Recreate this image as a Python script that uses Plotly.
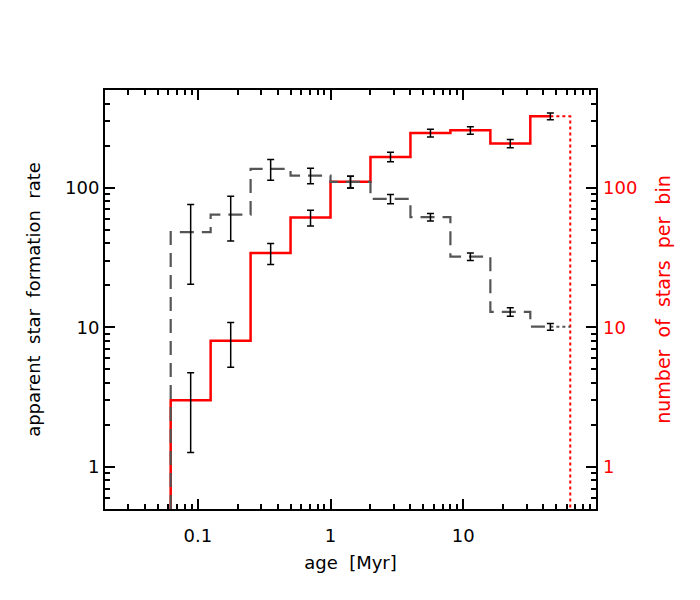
import math
import plotly.graph_objects as go

# bin edges [Myr] and bin centres (geometric)
bin_edges = [0.0625, 0.125, 0.25, 0.5, 1, 2, 4, 8, 16, 32, 64]
bin_centres = [0.0884, 0.177, 0.354, 0.707, 1.414, 2.83, 5.66, 11.31, 22.6, 45.3]

# number of stars per bin (red, right axis)
n_stars = [3, 8, 34, 61, 110, 166, 246, 257, 207, 324]
n_stars_err = [1.73, 2.83, 5.8, 7.8, 10.5, 12.9, 15.7, 16.0, 14.4, 18.0]

# apparent star formation rate (grey dashed, left axis)
sfr = [48, 64, 136, 122, 110, 83, 61.5, 32.1, 12.9, 10.1]
sfr_err = [27.7, 22.6, 23.3, 15.6, 10.5, 6.4, 3.9, 2.0, 0.9, 0.56]

x_range = [0.02, 100]
y_range = [0.5, 500]

x_major = [0.1, 1, 10]
x_major_text = ["0.1", "1", "10"]
y_major = [1, 10, 100]
y_major_text = ["1", "10", "100"]

x_minor = [m * 10 ** e for e in range(-2, 2) for m in range(2, 10)
           if x_range[0] <= m * 10 ** e <= x_range[1]]
y_minor = [m * 10 ** e for e in range(-1, 3) for m in range(2, 10)
           if y_range[0] <= m * 10 ** e <= y_range[1]]

RED = "#ff0000"
GREY = "#555555"
FONT = "DejaVu Sans"

fig = go.Figure()

# red solid step (number of stars)
red_x = [bin_edges[0]] + bin_edges[:-1] + [bin_centres[-1]]
red_y = [y_range[0]] + n_stars + [n_stars[-1]]
fig.add_trace(go.Scatter(x=red_x, y=red_y, mode="lines", line_shape="hv",
                         line=dict(color=RED, width=2.5), hoverinfo="skip"))
# red dotted continuation of last bin
fig.add_trace(go.Scatter(x=[bin_centres[-1], bin_edges[-1], bin_edges[-1]],
                         y=[n_stars[-1], n_stars[-1], y_range[0]], mode="lines",
                         line=dict(color=RED, width=2, dash="dot"), hoverinfo="skip"))
# red error bars
fig.add_trace(go.Scatter(x=bin_centres, y=n_stars, mode="markers",
                         marker=dict(size=1, color="rgba(0,0,0,0)"),
                         error_y=dict(type="data", array=n_stars_err, color="black",
                                      thickness=1.5, width=3.5)))

# grey dashed step (apparent SFR)
grey_x = [bin_edges[0]] + bin_edges[:-1] + [bin_centres[-1]]
grey_y = [y_range[0]] + sfr + [sfr[-1]]
fig.add_trace(go.Scatter(x=grey_x, y=grey_y, mode="lines", line_shape="hv",
                         line=dict(color=GREY, width=2.2, dash="14px,8px"), hoverinfo="skip"))
fig.add_trace(go.Scatter(x=[bin_centres[-1], bin_edges[-1]], y=[sfr[-1], sfr[-1]],
                         mode="lines", line=dict(color=GREY, width=2, dash="dot"),
                         hoverinfo="skip"))
fig.add_trace(go.Scatter(x=bin_centres, y=sfr, mode="markers",
                         marker=dict(size=1, color="rgba(0,0,0,0)"),
                         error_y=dict(type="data", array=sfr_err, color="black",
                                      thickness=1.5, width=3.5)))

# dummy trace for the right axis
fig.add_trace(go.Scatter(x=bin_centres, y=n_stars, yaxis="y2", mode="lines",
                         line=dict(color="rgba(0,0,0,0)"), hoverinfo="skip"))

fig.update_layout(
    width=700, height=600,
    margin=dict(l=97, r=112, t=82, b=99),
    paper_bgcolor="white", plot_bgcolor="white",
    showlegend=False,
    font=dict(family=FONT, size=18, color="black"),
    xaxis=dict(type="log", range=[math.log10(x_range[0]), math.log10(x_range[1])],
               tickmode="array", tickvals=x_major, ticktext=x_major_text,
               ticks="inside", ticklen=10, tickwidth=2, tickcolor="black",
               showline=True, linecolor="black", linewidth=2, mirror="ticks",
               showgrid=False, zeroline=False, ticklabelstandoff=9,
               minor=dict(tickmode="array", tickvals=x_minor, ticks="inside",
                          ticklen=5, tickwidth=2, tickcolor="black", showgrid=False),
               title=dict(text="age\u00a0 [Myr]", font=dict(size=18), standoff=12),
               tickfont=dict(size=18)),
    yaxis=dict(type="log", range=[math.log10(y_range[0]), math.log10(y_range[1])],
               tickmode="array", tickvals=y_major, ticktext=y_major_text,
               ticks="inside", ticklen=10, tickwidth=2, tickcolor="black",
               showline=True, linecolor="black", linewidth=2, mirror="ticks",
               showgrid=False, zeroline=False,
               minor=dict(tickmode="array", tickvals=y_minor, ticks="inside",
                          ticklen=5, tickwidth=2, tickcolor="black", showgrid=False),
               title=dict(text="apparent\u00a0 star\u00a0 formation\u00a0 rate",
                          font=dict(size=18), standoff=20),
               tickfont=dict(size=18)),
    yaxis2=dict(type="log", range=[math.log10(y_range[0]), math.log10(y_range[1])],
                overlaying="y", side="right", anchor="x",
                tickmode="array", tickvals=y_major, ticktext=y_major_text,
                ticks="", showline=False, showgrid=False, zeroline=False,
                ticklabelstandoff=6,
                tickfont=dict(size=18, color=RED),
                title=dict(text="number\u00a0 of\u00a0 stars\u00a0 per\u00a0 bin",
                           font=dict(size=19, color=RED), standoff=20)),
)

fig.write_html("out.html")
